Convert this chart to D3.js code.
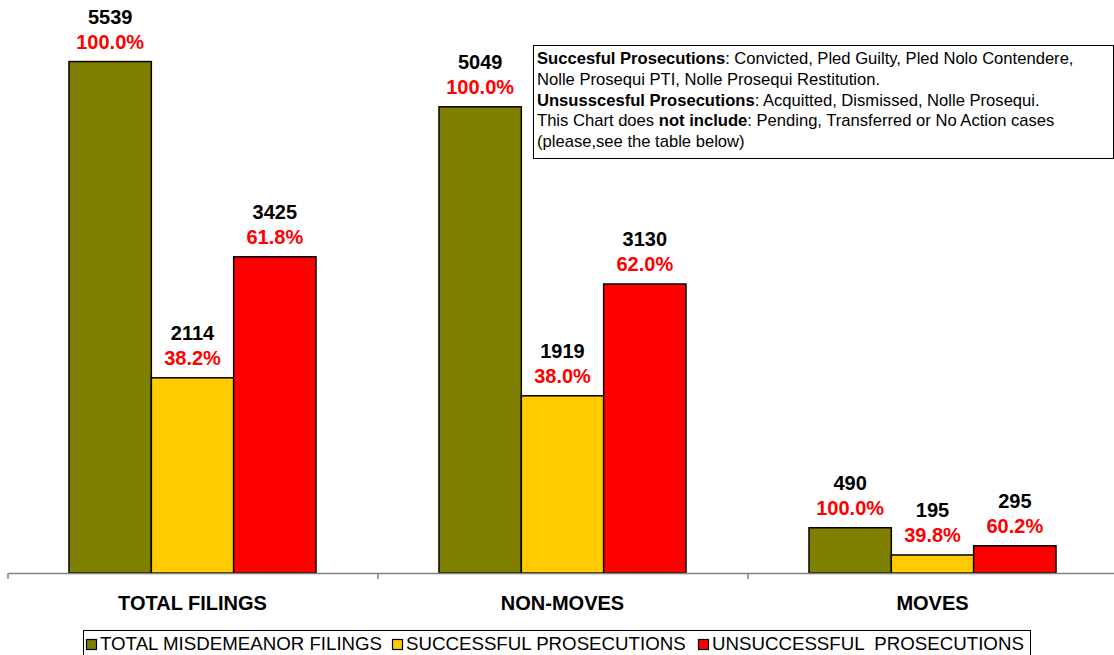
<!DOCTYPE html>
<html>
<head>
<meta charset="utf-8">
<script src="https://cdn.jsdelivr.net/npm/d3@7"></script>
<style>
  body { margin: 0; background: #fff; }
  svg { display: block; font-family: "Liberation Sans", Arial, sans-serif; }
</style>
</head>
<body>
<div id="chart"></div>
<script>
const width = 1114,
height = 655;

const categories = ['TOTAL FILINGS', 'NON-MOVES', 'MOVES']
const seriesNames = ['TOTAL MISDEMEANOR FILINGS', 'SUCCESSFUL PROSECUTIONS', 'UNSUCCESSFUL  PROSECUTIONS']
const seriesColors = ['#808000', '#FFCC00', '#FF0000']
const totalFilings = [5539, 5049, 490]
const successful = [2114, 1919, 195]
const unsuccessful = [3425, 3130, 295]
const percents = [
    ['100.0%', '38.2%', '61.8%'],
    ['100.0%', '38.0%', '62.0%'],
    ['100.0%', '39.8%', '60.2%']
]

const series = [totalFilings, successful, unsuccessful]

const svg = d3.select('#chart').append('svg')
    .attr('width', width)
    .attr('height', height)

const x0 = d3.scaleBand()
    .domain(categories)
    .range([8, 1118])
    .padding(0)

const x1 = d3.scaleBand()
    .domain(d3.range(seriesNames.length))
    .range([61, 308])
    .padding(0)

const y = d3.scaleLinear()
    .domain([0, 6000])
    .range([573, 19])

// annotation box (drawn first so bars sit on top of its edge)
svg.append('rect')
    .attr('x', 533.5)
    .attr('y', 45.5)
    .attr('width', 580)
    .attr('height', 113)
    .attr('fill', '#fff')
    .attr('stroke', '#000')

const groups = svg.selectAll('.grp')
    .data(categories)
    .enter()
    .append('g')
    .attr('class', 'grp')
    .attr('transform', (d) => 'translate(' + x0(d) + ',0)')

groups.selectAll('rect')
    .data((d, i) => series.map((s, j) => ({j: j, value: s[i], pct: percents[i][j]})))
    .enter()
    .append('rect')
    .attr('x', (d) => x1(d.j))
    .attr('y', (d) => y(d.value))
    .attr('width', x1.bandwidth())
    .attr('height', (d) => y(0) - y(d.value))
    .attr('fill', (d) => seriesColors[d.j])
    .attr('stroke', '#000')
    .attr('stroke-width', 1.5)

const labels = groups.selectAll('.lbl')
    .data((d, i) => series.map((s, j) => ({j: j, value: s[i], pct: percents[i][j]})))
    .enter()
    .append('g')
    .attr('class', 'lbl')
    .attr('text-anchor', 'middle')
    .style('font-weight', 'bold')
    .style('font-size', '20px')

labels.append('text')
    .attr('x', (d) => x1(d.j) + x1.bandwidth() / 2)
    .attr('y', (d) => y(d.value) - 38)
    .attr('fill', '#000')
    .text((d) => d.value)

labels.append('text')
    .attr('x', (d) => x1(d.j) + x1.bandwidth() / 2)
    .attr('y', (d) => y(d.value) - 13)
    .attr('fill', '#FF0000')
    .text((d) => d.pct)

// x axis
const xAxis = d3.axisBottom(x0).tickSize(0).tickFormat('')
const axisG = svg.append('g')
    .attr('transform', 'translate(0,' + y(0) + ')')
    .call(xAxis)
axisG.select('.domain').attr('stroke', '#808080').attr('stroke-width', 1.5)

const boundaries = x0.domain().map((d) => x0(d)).concat([x0.range()[1]])
axisG.selectAll('.bound')
    .data(boundaries)
    .enter()
    .append('line')
    .attr('x1', (d) => d)
    .attr('x2', (d) => d)
    .attr('y1', 0)
    .attr('y2', 6)
    .attr('stroke', '#808080')
    .attr('stroke-width', 1.5)

svg.selectAll('.cat')
    .data(categories)
    .enter()
    .append('text')
    .attr('x', (d) => x0(d) + 61 + 247 / 2)
    .attr('y', 610)
    .attr('text-anchor', 'middle')
    .style('font-weight', 'bold')
    .style('font-size', '20px')
    .text((d) => d)

const noteLines = [
    [['Succesful Prosecutions', true], [': Convicted, Pled Guilty, Pled Nolo Contendere,', false]],
    [['Nolle Prosequi PTI, Nolle Prosequi Restitution.', false]],
    [['Unsusscesful Prosecutions', true], [': Acquitted, Dismissed, Nolle Prosequi.', false]],
    [['This Chart does ', false], ['not include', true], [': Pending, Transferred or No Action cases', false]],
    [['(please,see the table below)', false]]
]
const noteText = svg.append('text')
    .style('font-size', '16.6px')
    .attr('fill', '#000')
    .attr('xml:space', 'preserve')
noteLines.forEach((line, i) => {
    line.forEach((part, k) => {
        const t = noteText.append('tspan')
            .style('font-weight', part[1] ? 'bold' : 'normal')
            .text(part[0])
        if (k === 0) t.attr('x', 537).attr('y', 64 + i * 20.8)
    })
})

// legend
const legend = svg.append('g')
legend.append('rect')
    .attr('x', 83.5)
    .attr('y', 630.5)
    .attr('width', 947)
    .attr('height', 30)
    .attr('fill', '#fff')
    .attr('stroke', '#000')

const legendX = [86, 392, 698]
const items = legend.selectAll('.item')
    .data(seriesNames)
    .enter()
    .append('g')
    .attr('transform', (d, i) => 'translate(' + legendX[i] + ',0)')

items.append('rect')
    .attr('x', 0.5)
    .attr('y', 639.5)
    .attr('width', 10)
    .attr('height', 10)
    .attr('fill', (d, i) => seriesColors[i])
    .attr('stroke', '#000')
    .attr('stroke-width', 1.2)

items.append('text')
    .attr('x', 14)
    .attr('y', 650)
    .style('font-size', '18.7px')
    .attr('xml:space', 'preserve')
    .text((d) => d)
</script>
</body>
</html>
